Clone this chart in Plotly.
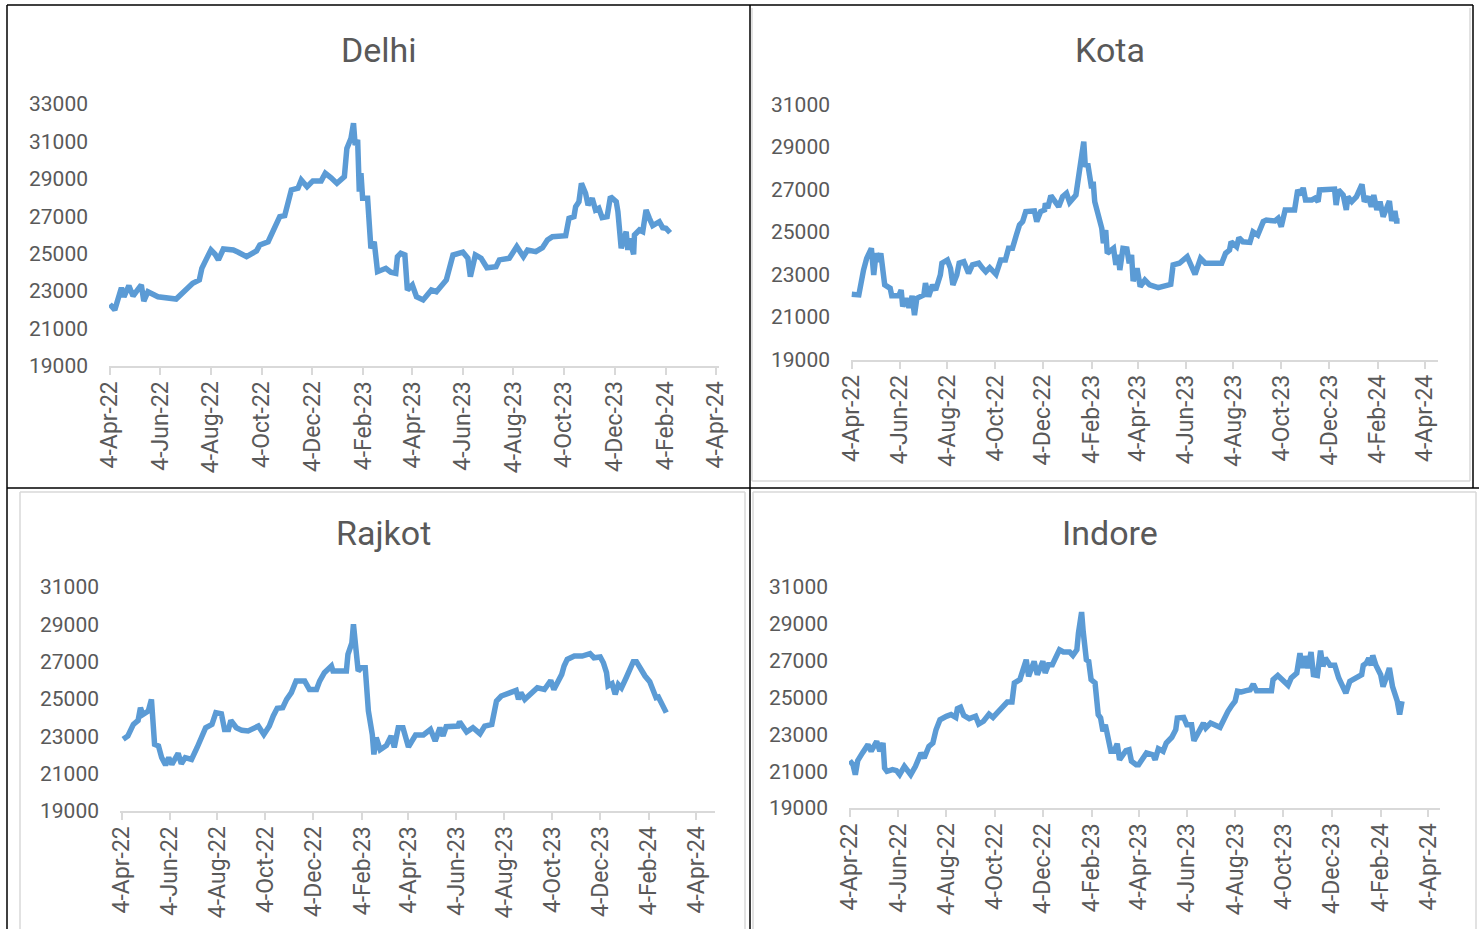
import plotly.graph_objects as go

# ---------------- DATA ----------------
tick_vals = ["2022-04-04", "2022-06-04", "2022-08-04", "2022-10-04", "2022-12-04",
             "2023-02-04", "2023-04-04", "2023-06-04", "2023-08-04", "2023-10-04",
             "2023-12-04", "2024-02-04", "2024-04-04"]
tick_text = ["4-Apr-22", "4-Jun-22", "4-Aug-22", "4-Oct-22", "4-Dec-22",
             "4-Feb-23", "4-Apr-23", "4-Jun-23", "4-Aug-23", "4-Oct-23",
             "4-Dec-23", "4-Feb-24", "4-Apr-24"]

delhi_dates = ["2022-04-04", "2022-04-10", "2022-04-18", "2022-04-21", "2022-04-27", "2022-05-02",
               "2022-05-12", "2022-05-15", "2022-05-20", "2022-06-01", "2022-06-23", "2022-06-29",
               "2022-07-06", "2022-07-13", "2022-07-21", "2022-07-24", "2022-07-29", "2022-08-04",
               "2022-08-09", "2022-08-13", "2022-08-19", "2022-08-31", "2022-09-06", "2022-09-16",
               "2022-09-28", "2022-10-02", "2022-10-12", "2022-10-18", "2022-10-26", "2022-11-01",
               "2022-11-09", "2022-11-17", "2022-11-21", "2022-11-28", "2022-12-05", "2022-12-15",
               "2022-12-20", "2022-12-27", "2023-01-03", "2023-01-12", "2023-01-15", "2023-01-20",
               "2023-01-23", "2023-01-25", "2023-01-28", "2023-01-30", "2023-02-01", "2023-02-03",
               "2023-02-09", "2023-02-13", "2023-02-17", "2023-02-21", "2023-03-03", "2023-03-09",
               "2023-03-15", "2023-03-17", "2023-03-21", "2023-03-26", "2023-03-29", "2023-04-04",
               "2023-04-09", "2023-04-17", "2023-04-27", "2023-05-03", "2023-05-15", "2023-05-23",
               "2023-06-04", "2023-06-10", "2023-06-13", "2023-06-19", "2023-06-26", "2023-07-03",
               "2023-07-14", "2023-07-18", "2023-07-30", "2023-08-08", "2023-08-16", "2023-08-21",
               "2023-08-31", "2023-09-08", "2023-09-14", "2023-09-20", "2023-10-06", "2023-10-10",
               "2023-10-16", "2023-10-18", "2023-10-22", "2023-10-25", "2023-10-30", "2023-11-02",
               "2023-11-07", "2023-11-11", "2023-11-15", "2023-11-19", "2023-11-25", "2023-11-29",
               "2023-12-06", "2023-12-08", "2023-12-12", "2023-12-18", "2023-12-20", "2023-12-22",
               "2023-12-27", "2023-12-28", "2024-01-03", "2024-01-07", "2024-01-11", "2024-01-15",
               "2024-01-19", "2024-01-27", "2024-01-31", "2024-02-04", "2024-02-09"]
delhi_values = [22300, 22000, 23180, 22700, 23290, 22740,
                23330, 22470, 22970, 22700, 22580, 22830,
                23180, 23420, 23600, 24220, 24670, 25200,
                24970, 24670, 25250, 25200, 25080, 24840,
                25150, 25470, 25640, 26270, 26980, 27030,
                28410, 28500, 28940, 28580, 28890, 28890,
                29300, 29060, 28760, 29120, 30630, 31170,
                31970, 30810, 31080, 28320, 29300, 27960,
                27960, 25290, 25640, 24040, 24220, 24010,
                23950, 24840, 25020, 24930, 23060, 23330,
                22700, 22530, 23060, 22970, 23600, 24930,
                25080, 24760, 23770, 24930, 24760, 24250,
                24310, 24670, 24760, 25380, 24840, 25200,
                25110, 25320, 25730, 25910, 25960, 26890,
                26980, 27510, 27780, 28760, 28230, 27600,
                27960, 27340, 27430, 26930, 26980, 28050,
                27780, 27250, 25290, 26180, 25200, 25820,
                24970, 26000, 26270, 26180, 27340, 26890,
                26500, 26710, 26390, 26360, 26120]

kota_dates = ["2022-04-04", "2022-04-13", "2022-04-19", "2022-04-23", "2022-04-29", "2022-05-02",
              "2022-05-05", "2022-05-08", "2022-05-11", "2022-05-16", "2022-05-23", "2022-05-25",
              "2022-06-03", "2022-06-06", "2022-06-08", "2022-06-12", "2022-06-16", "2022-06-20",
              "2022-06-23", "2022-06-26", "2022-07-05", "2022-07-07", "2022-07-11", "2022-07-16",
              "2022-07-20", "2022-07-26", "2022-07-28", "2022-08-04", "2022-08-08", "2022-08-11",
              "2022-08-16", "2022-08-19", "2022-08-25", "2022-08-31", "2022-09-05", "2022-09-13",
              "2022-09-18", "2022-09-22", "2022-09-27", "2022-10-05", "2022-10-11", "2022-10-17",
              "2022-10-21", "2022-10-26", "2022-10-31", "2022-11-04", "2022-11-08", "2022-11-12",
              "2022-11-23", "2022-11-26", "2022-12-01", "2022-12-06", "2022-12-07", "2022-12-10",
              "2022-12-14", "2022-12-19", "2022-12-24", "2022-12-29", "2023-01-03", "2023-01-07",
              "2023-01-15", "2023-01-20", "2023-01-25", "2023-01-27", "2023-01-30", "2023-02-04",
              "2023-02-06", "2023-02-08", "2023-02-12", "2023-02-17", "2023-02-19", "2023-02-22",
              "2023-02-24", "2023-03-04", "2023-03-07", "2023-03-10", "2023-03-12", "2023-03-16",
              "2023-03-21", "2023-03-24", "2023-03-27", "2023-03-29", "2023-04-03", "2023-04-07",
              "2023-04-13", "2023-04-19", "2023-04-30", "2023-05-16", "2023-05-19", "2023-05-27",
              "2023-06-06", "2023-06-10", "2023-06-16", "2023-06-23", "2023-06-29", "2023-07-20",
              "2023-07-25", "2023-07-30", "2023-08-01", "2023-08-08", "2023-08-11", "2023-08-16",
              "2023-08-25", "2023-08-29", "2023-09-04", "2023-09-11", "2023-09-15", "2023-09-26",
              "2023-09-30", "2023-10-04", "2023-10-09", "2023-10-21", "2023-10-25", "2023-10-29",
              "2023-11-01", "2023-11-04", "2023-11-12", "2023-11-16", "2023-11-20", "2023-11-22",
              "2023-12-01", "2023-12-11", "2023-12-13", "2023-12-16", "2023-12-22", "2023-12-26",
              "2023-12-28", "2024-01-02", "2024-01-08", "2024-01-11", "2024-01-15", "2024-01-18",
              "2024-01-23", "2024-01-27", "2024-01-30", "2024-02-03", "2024-02-07", "2024-02-11",
              "2024-02-16", "2024-02-19", "2024-02-22", "2024-02-26", "2024-02-28", "2024-03-03"]
kota_values = [22070, 22040, 23210, 23760, 24230, 22980,
               24000, 23600, 24000, 22510, 22350, 22000,
               22000, 22270, 21490, 21880, 21440, 21990,
               21090, 21880, 22040, 22590, 21960, 22510,
               22270, 22980, 23530, 23680, 23290, 22510,
               22980, 23530, 23600, 23060, 23450, 23530,
               23290, 23130, 23320, 23010, 23680, 23680,
               24230, 24230, 24860, 25330, 25490, 25960,
               25990, 25490, 25960, 26040, 26350, 26120,
               26710, 26430, 26190, 26660, 26820, 26400,
               26740, 28000, 29250, 28070, 28230, 27060,
               27370, 26430, 25880, 25170, 24470, 25090,
               24000, 24230, 23450, 23920, 23210, 24230,
               24200, 23530, 23920, 22690, 23290, 22430,
               22740, 22510, 22380, 22540, 23450, 23530,
               23840, 23530, 23010, 23760, 23530, 23530,
               24000, 24150, 24540, 24310, 24730, 24540,
               24510, 25010, 24860, 25490, 25560, 25520,
               25640, 25250, 26040, 26040, 26980, 26740,
               27080, 26510, 26510, 26590, 26430, 26980,
               27020, 27020, 26270, 26980, 26740, 26040,
               26660, 26430, 26660, 26900, 27240, 26430,
               26660, 26190, 26740, 26040, 26430, 25720,
               26120, 26460, 25520, 25990, 25520, 25520]

rajkot_dates = ["2022-04-06", "2022-04-12", "2022-04-19", "2022-04-25", "2022-04-28", "2022-05-01",
                "2022-05-08", "2022-05-12", "2022-05-16", "2022-05-21", "2022-05-25", "2022-05-30",
                "2022-06-03", "2022-06-07", "2022-06-15", "2022-06-19", "2022-06-24", "2022-07-02",
                "2022-07-09", "2022-07-14", "2022-07-20", "2022-07-28", "2022-08-02", "2022-08-09",
                "2022-08-13", "2022-08-18", "2022-08-21", "2022-08-28", "2022-09-04", "2022-09-12",
                "2022-09-20", "2022-09-25", "2022-10-02", "2022-10-09", "2022-10-14", "2022-10-19",
                "2022-10-26", "2022-10-31", "2022-11-06", "2022-11-12", "2022-11-23", "2022-11-29",
                "2022-12-08", "2022-12-12", "2022-12-18", "2022-12-27", "2022-12-29", "2023-01-15",
                "2023-01-17", "2023-01-22", "2023-01-24", "2023-01-27", "2023-01-30", "2023-02-03",
                "2023-02-08", "2023-02-12", "2023-02-17", "2023-02-19", "2023-02-22", "2023-02-27",
                "2023-03-07", "2023-03-13", "2023-03-17", "2023-03-22", "2023-03-28", "2023-04-04",
                "2023-04-13", "2023-04-23", "2023-05-02", "2023-05-08", "2023-05-14", "2023-05-18",
                "2023-05-22", "2023-06-06", "2023-06-08", "2023-06-17", "2023-06-25", "2023-07-04",
                "2023-07-10", "2023-07-19", "2023-07-25", "2023-07-31", "2023-08-13", "2023-08-19",
                "2023-08-22", "2023-08-25", "2023-08-30", "2023-09-09", "2023-09-15", "2023-09-24",
                "2023-10-02", "2023-10-06", "2023-10-11", "2023-10-16", "2023-10-19", "2023-10-23",
                "2023-11-01", "2023-11-11", "2023-11-21", "2023-11-26", "2023-12-04", "2023-12-08",
                "2023-12-12", "2023-12-14", "2023-12-19", "2023-12-23", "2023-12-27", "2023-12-31",
                "2024-01-06", "2024-01-11", "2024-01-15", "2024-01-19", "2024-01-24", "2024-01-30",
                "2024-02-05", "2024-02-10", "2024-02-13", "2024-02-16", "2024-02-20", "2024-02-24",
                "2024-02-26"]
rajkot_values = [22840, 23020, 23640, 23850, 24530, 24170,
                 24360, 24980, 22570, 22480, 21860, 21460,
                 21860, 21500, 22090, 21530, 21860, 21760,
                 22390, 22930, 23460, 23640, 24270, 24210,
                 23370, 23370, 23850, 23460, 23320, 23290,
                 23500, 23550, 23100, 23550, 24090, 24500,
                 24530, 24980, 25340, 25960, 25960, 25510,
                 25510, 25960, 26410, 26770, 26500, 26500,
                 27390, 28010, 29000, 27920, 26500, 26680,
                 26680, 24360, 23100, 22030, 22930, 22280,
                 22510, 23020, 22410, 23460, 23460, 22430,
                 23070, 23070, 23370, 22750, 23460, 23020,
                 23520, 23550, 23780, 23230, 23460, 23140,
                 23550, 23640, 24890, 25160, 25340, 25460,
                 24980, 25340, 24980, 25430, 25600, 25510,
                 25990, 25510, 25960, 26320, 26770, 27120,
                 27300, 27300, 27430, 27210, 27250, 26940,
                 26410, 25700, 25820, 25250, 25780, 25600,
                 26140, 26580, 27000, 27000, 26580, 26230,
                 25930, 25430, 25070, 25110, 24800, 24360,
                 24270]

indore_dates = ["2022-04-04", "2022-04-08", "2022-04-11", "2022-04-14", "2022-04-20", "2022-04-27",
                "2022-05-01", "2022-05-08", "2022-05-12", "2022-05-16", "2022-05-18", "2022-05-21",
                "2022-05-28", "2022-06-02", "2022-06-06", "2022-06-12", "2022-06-20", "2022-06-26",
                "2022-07-03", "2022-07-07", "2022-07-13", "2022-07-18", "2022-07-22", "2022-07-27",
                "2022-08-04", "2022-08-10", "2022-08-16", "2022-08-18", "2022-08-22", "2022-08-26",
                "2022-09-02", "2022-09-10", "2022-09-14", "2022-09-20", "2022-09-27", "2022-10-02",
                "2022-10-09", "2022-10-15", "2022-10-20", "2022-10-26", "2022-10-29", "2022-11-05",
                "2022-11-10", "2022-11-13", "2022-11-16", "2022-11-20", "2022-11-23", "2022-11-27",
                "2022-12-01", "2022-12-04", "2022-12-07", "2022-12-11", "2022-12-16", "2022-12-20",
                "2022-12-25", "2022-12-30", "2023-01-07", "2023-01-11", "2023-01-16", "2023-01-18",
                "2023-01-22", "2023-01-24", "2023-01-28", "2023-01-31", "2023-02-03", "2023-02-08",
                "2023-02-12", "2023-02-15", "2023-02-18", "2023-02-21", "2023-02-24", "2023-02-28",
                "2023-03-04", "2023-03-08", "2023-03-11", "2023-03-15", "2023-03-19", "2023-03-23",
                "2023-03-26", "2023-04-01", "2023-04-04", "2023-04-14", "2023-04-22", "2023-04-25",
                "2023-04-29", "2023-05-05", "2023-05-09", "2023-05-16", "2023-05-21", "2023-05-23",
                "2023-05-31", "2023-06-04", "2023-06-10", "2023-06-13", "2023-06-18", "2023-06-25",
                "2023-06-28", "2023-07-04", "2023-07-16", "2023-07-20", "2023-07-26", "2023-07-31",
                "2023-08-04", "2023-08-07", "2023-08-12", "2023-08-18", "2023-08-23", "2023-08-27",
                "2023-08-31", "2023-09-19", "2023-09-21", "2023-09-27", "2023-10-04", "2023-10-10",
                "2023-10-14", "2023-10-21", "2023-10-25", "2023-10-28", "2023-10-31", "2023-11-04",
                "2023-11-08", "2023-11-11", "2023-11-16", "2023-11-20", "2023-11-23", "2023-11-26",
                "2023-12-02", "2023-12-08", "2023-12-13", "2023-12-17", "2023-12-22", "2023-12-27",
                "2024-01-03", "2024-01-08", "2024-01-11", "2024-01-13", "2024-01-17", "2024-01-20",
                "2024-01-23", "2024-01-25", "2024-01-29", "2024-02-04", "2024-02-07", "2024-02-11",
                "2024-02-15", "2024-02-19", "2024-02-22", "2024-02-25", "2024-02-28", "2024-03-02"]
indore_values = [21570, 21350, 20810, 21570, 21990, 22440,
                 22080, 22620, 22080, 22530, 21170, 20990,
                 21080, 21030, 20810, 21260, 20810, 21260,
                 21990, 21710, 22350, 22530, 23250, 23790,
                 23980, 24070, 23920, 24390, 24470, 24030,
                 23850, 23980, 23560, 23710, 24100, 23920,
                 24250, 24520, 24750, 24750, 25790, 25970,
                 26600, 27050, 26150, 26690, 26960, 26240,
                 26640, 26960, 26330, 26780, 26780, 27140,
                 27590, 27470, 27470, 27290, 27590, 28500,
                 29640, 28590, 27050, 26960, 25970, 25790,
                 24070, 23890, 23160, 23520, 22710, 22080,
                 22080, 22490, 21620, 21810, 22110, 22160,
                 21540, 21350, 21350, 21990, 21890, 21620,
                 22220, 22080, 22530, 22840, 23250, 23890,
                 23920, 23520, 23520, 22650, 23070, 23610,
                 23340, 23610, 23380, 23790, 24250, 24580,
                 24800, 25340, 25300, 25370, 25420, 25730,
                 25370, 25370, 25970, 26200, 25880, 25660,
                 26060, 26330, 27410, 26600, 27240, 26600,
                 27470, 26240, 26200, 27540, 26690, 27140,
                 26750, 26750, 26060, 25730, 25240, 25880,
                 26020, 26100, 26240, 26750, 26870, 27140,
                 26750, 27290, 26750, 26240, 25590, 26060,
                 26600, 25590, 25240, 24800, 24070, 24800]

cities = ["Delhi", "Kota", "Rajkot", "Indore"]
y_ranges = [[19000, 33000], [19000, 31000], [19000, 31000], [19000, 31000]]
y_dtick = 2000

# ---------------- LAYOUT (pixel geometry) ----------------
W, H = 1480, 929
def px(x):
    return x / W
def py(y):
    return 1 - y / H

panels = [
    dict(xd=(109, 719), xr=["2022-04-03", "2024-04-08"], yd=(104, 366), title=(379, 50)),
    dict(xd=(851, 1438), xr=["2022-04-03", "2024-04-21"], yd=(104.5, 359.5), title=(1110, 50)),
    dict(xd=(120, 715), xr=["2022-04-02", "2024-04-28"], yd=(587, 811), title=(383, 533)),
    dict(xd=(849, 1440), xr=["2022-04-03", "2024-04-19"], yd=(587, 808), title=(1110, 533)),
]
series = [(delhi_dates, delhi_values), (kota_dates, kota_values),
          (rajkot_dates, rajkot_values), (indore_dates, indore_values)]

FONT = "Roboto, Open Sans, sans-serif"
TXT = "#595959"
AXC = "#D9D9D9"

fig = go.Figure()
layout = dict(
    width=W, height=H, autosize=False,
    margin=dict(l=0, r=0, t=0, b=0),
    paper_bgcolor="white", plot_bgcolor="white",
    showlegend=False, font=dict(family=FONT, color=TXT),
)
annotations = []
for i, (p, (d, v)) in enumerate(zip(panels, series)):
    n = "" if i == 0 else str(i + 1)
    fig.add_trace(go.Scatter(x=d, y=v, mode="lines", xaxis="x" + n, yaxis="y" + n,
                             line=dict(color="#5B9BD5", width=5.5), hoverinfo="x+y"))
    layout["xaxis" + n] = dict(
        domain=[px(p["xd"][0]), px(p["xd"][1])], anchor="y" + n, type="date",
        range=p["xr"], tickmode="array", tickvals=tick_vals, ticktext=tick_text,
        tickangle=-90, ticks="outside", ticklen=7, tickwidth=2, tickcolor=AXC,
        showline=True, linecolor=AXC, linewidth=2, showgrid=False, zeroline=False,
        tickfont=dict(family=FONT, size=23, color=TXT), ticklabelstandoff=-3,
        automargin=False,
    )
    layout["yaxis" + n] = dict(
        domain=[py(p["yd"][1]), py(p["yd"][0])], anchor="x" + n,
        range=y_ranges[i], tick0=19000, dtick=y_dtick, tickformat="d",
        showline=False, showgrid=False, zeroline=False, ticks="",
        tickfont=dict(family=FONT, size=21, color=TXT), ticklabelstandoff=20,
        automargin=False,
    )
    annotations.append(dict(text=cities[i], x=px(p["title"][0]), y=py(p["title"][1]),
                            xref="paper", yref="paper", showarrow=False,
                            xanchor="center", yanchor="middle",
                            font=dict(family=FONT, size=34, color=TXT)))
layout["annotations"] = annotations

def line(x0, y0, x1, y1, color, w):
    return dict(type="line", xref="paper", yref="paper",
                x0=px(x0), y0=py(y0), x1=px(x1), y1=py(y1),
                line=dict(color=color, width=w), layer="above")

shapes = [
    # light inner chart borders
    line(752, 8, 752, 481, "#D9D9D9", 1.5),
    line(752, 481, 1470, 481, "#D9D9D9", 1.5),
    line(1470, 8, 1470, 481, "#D9D9D9", 1.5),
    line(20, 492, 20, 929, "#D9D9D9", 1.5),
    line(20, 492, 745, 492, "#D9D9D9", 1.5),
    line(745, 492, 745, 929, "#D9D9D9", 1.5),
    line(753, 492, 753, 929, "#D9D9D9", 1.5),
    line(753, 492, 1476, 492, "#D9D9D9", 1.5),
    line(1476, 492, 1476, 929, "#D9D9D9", 1.5),
    # black table borders
    line(7, 5, 1473, 5, "black", 1.5),
    line(7, 5, 7, 929, "black", 1.5),
    line(750, 5, 750, 929, "black", 1.5),
    line(7, 488, 1479, 488, "black", 1.5),
    line(1473, 5, 1473, 488, "black", 1.5),
]
layout["shapes"] = shapes
fig.update_layout(**layout)
fig.write_html("out.html", config={"displayModeBar": False},
               post_script="document.body.style.margin='0';document.body.style.overflow='hidden';")
